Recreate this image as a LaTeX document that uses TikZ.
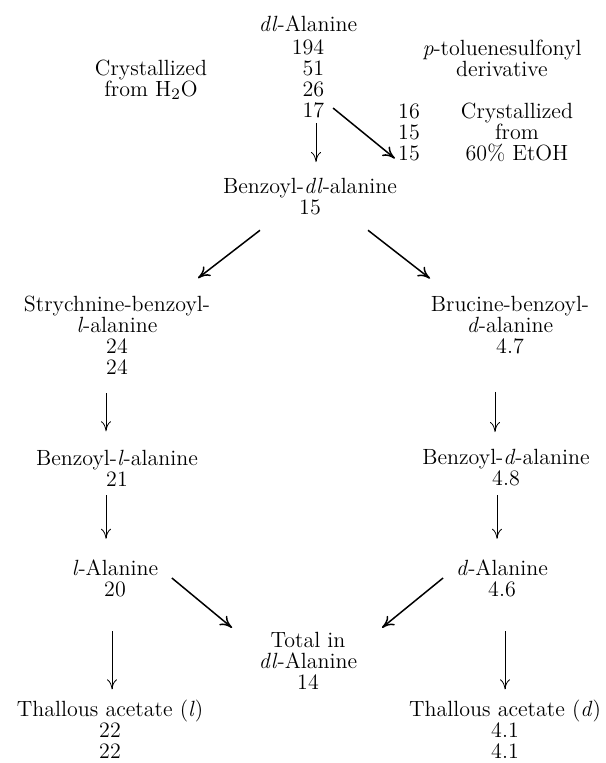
\documentclass[tikz,border=0pt]{standalone}
\usetikzlibrary{arrows.meta}
\tikzset{
    chem/.style ={
        align=center,
        inner sep=0pt,
        font=\fontsize{11}{10.5}\selectfont
    },
    flow/.style ={
        line width=0.4pt,
        -{To[length=5pt,width=5pt]}
    },
    bigflow/.style ={
        line width=0.75pt,
        -{To[length=6pt,width=6pt]}
    }
}

\begin{document}
\begin{tikzpicture}[x=0.5pt,y=-0.5pt]
    \useasboundingbox (0,0) rectangle (605,763);
    \node[chem] (dlala) at (308,24) {\textit{dl}-Alanine};
    \node[chem,align=right] (cryst) at (308,79) {194\\51\\26\\17};
    \node[chem] (water) at (151,80) {Crystallized\\from H$_2$O};
    \node[chem] (tosyl) at (502,58) {\textit{p}-toluenesulfonyl\\derivative};
    \node[chem] (tosnum) at (409,132) {16\\15\\15};
    \node[chem] (ethanol) at (517,132) {Crystallized\\from\\60\% EtOH};
    \node[chem] (bzdl) at (310,197) {Benzoyl-\textit{dl}-alanine\\15};
    \node[chem] (strych) at (117,335) {Strychnine-benzoyl-\\\textit{l}-alanine\\24\\24};
    \node[chem] (bruc) at (510,325) {Brucine-benzoyl-\\\textit{d}-alanine\\4.7};
    \node[chem] (bzl) at (117,468) {Benzoyl-\textit{l}-alanine\\21};
    \node[chem] (bzd) at (506,468) {Benzoyl-\textit{d}-alanine\\4.8};
    \node[chem] (lala) at (115,578) {\textit{l}-Alanine\\20};
    \node[chem] (dala) at (502,578) {\textit{d}-Alanine\\4.6};
    \node[chem] (total) at (308,661) {Total in\\\textit{dl}-Alanine\\14};
    \node[chem] (thl) at (110,729) {Thallous acetate (\textit{l})\\22\\22};
    \node[chem] (thd) at (505,729) {Thallous acetate (\textit{d})\\4.1\\4.1};

    % crystallization and split
    \draw[flow, shorten <=2.25pt, shorten >=8.1pt] ([xshift=4pt]cryst.south) -- ([xshift=4pt]cryst.south |- bzdl.north);
    \draw[bigflow] ([shift={(4.25pt,5.25pt)}]cryst.south east) -- ([shift={(-1.5pt,1.25pt)}]tosnum.south west);
    \draw[bigflow] ([shift={(-25pt,-7.25pt)}]bzdl.south) -- ([shift={(40.5pt,8.6pt)}]strych.north);
    \draw[bigflow] ([shift={(29pt,-7.25pt)}]bzdl.south) -- ([shift={(-40pt,8.6pt)}]bruc.north);

    % l side
    \draw[flow, shorten <=9.25pt, shorten >=9.1pt] ([xshift=-5.5pt]strych.south) -- ([xshift=-5.5pt]strych.south |- bzl.north);
    \draw[flow, shorten <=4.25pt, shorten >=10.1pt] ([xshift=-5.5pt]bzl.south) -- ([xshift=-5.5pt]bzl.south |- lala.north);
    \draw[flow, shorten <=17.25pt, shorten >=5pt] ([xshift=-1.5pt]lala.south) -- ([xshift=-1.5pt]lala.south |- thl.north);

    % d side
    \draw[flow, shorten <=18.75pt, shorten >=8.6pt] ([xshift=-7.5pt]bruc.south) -- ([xshift=-7.5pt]bruc.south |- bzd.north);
    \draw[flow, shorten <=4.25pt, shorten >=10.1pt] ([xshift=-4.5pt]bzd.south) -- ([xshift=-4.5pt]bzd.south |- dala.north);
    \draw[flow, shorten <=17.25pt, shorten >=5pt] ([xshift=1.5pt]dala.south) -- ([xshift=1.5pt]dala.south |- thd.north);

    % recombined
    \draw[bigflow] ([xshift=6.7pt]lala.east) -- ([shift={(-38pt,2.1pt)}]total.north);
    \draw[bigflow] ([xshift=-6.35pt]dala.west) -- ([shift={(37pt,2.1pt)}]total.north);
\end{tikzpicture}
\end{document}
